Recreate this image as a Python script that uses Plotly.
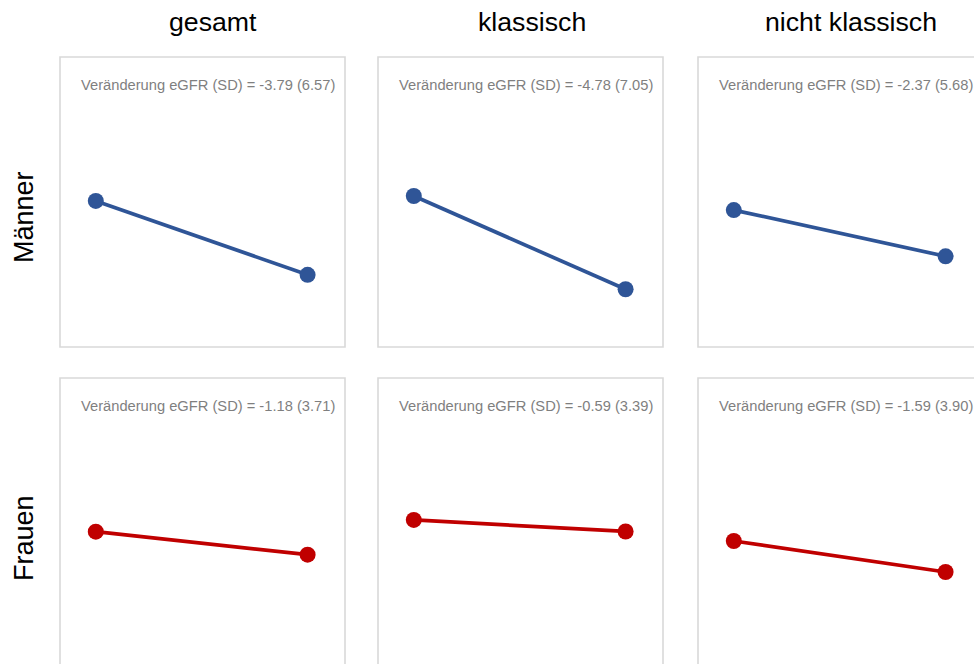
import plotly.graph_objects as go

# Faceted eGFR before/after plot: rows = sex, columns = subgroup
categories = ["gesamt", "klassisch", "nicht klassisch"]
groups = ["Männer", "Frauen"]
timepoints = [1, 2]

baseline_men = [72.62, 72.87, 72.15]
change_men = [-3.79, -4.78, -2.37]
sd_men = [6.57, 7.05, 5.68]

baseline_women = [72.12, 72.72, 71.64]
change_women = [-1.18, -0.59, -1.59]
sd_women = [3.71, 3.39, 3.90]

colors = ["#2F5597", "#C00000"]

W, H = 974, 664
# panel boxes in pixels (left, right, top, bottom)
col_px = [(60, 345), (378, 663), (698, 983)]
row_px = [(57, 347), (378, 668)]

X_PER_UNIT = 211.8
X_LEFT = 0.831
Y_PER_UNIT = 19.5
Y_TOP = 80.0

def px_x(p):
    return p / W

def px_y(p):
    return 1 - p / H

fig = go.Figure()
layout = {}
shapes = []
annotations = []

rows = [
    (baseline_men, change_men, sd_men),
    (baseline_women, change_women, sd_women),
]

idx = 0
for r, (base, chg, sd) in enumerate(rows):
    for c, cat in enumerate(categories):
        idx += 1
        sfx = "" if idx == 1 else str(idx)
        l, rt = col_px[c]
        t, b = row_px[r]
        rt_vis = min(rt, W)
        b_vis = min(b, H)
        xr = [X_LEFT, X_LEFT + (rt_vis - l) / X_PER_UNIT]
        yr = [Y_TOP - (b_vis - t) / Y_PER_UNIT, Y_TOP]
        layout["xaxis" + sfx] = dict(
            domain=[px_x(l), px_x(rt_vis)], range=xr, anchor="y" + sfx,
            showgrid=False, zeroline=False, showticklabels=False,
            showline=False, ticks="")
        layout["yaxis" + sfx] = dict(
            domain=[px_y(b_vis), px_y(t)], range=yr, anchor="x" + sfx,
            showgrid=False, zeroline=False, showticklabels=False,
            showline=False, ticks="")
        fig.add_trace(go.Scatter(
            x=timepoints, y=[base[c], base[c] + chg[c]],
            xaxis="x" + sfx, yaxis="y" + sfx,
            mode="lines+markers",
            line=dict(color=colors[r], width=3.7),
            marker=dict(color=colors[r], size=16),
            showlegend=False, hoverinfo="skip", cliponaxis=False))
        shapes.append(dict(
            type="rect", xref="paper", yref="paper",
            x0=px_x(l), x1=px_x(rt), y0=px_y(b), y1=px_y(t),
            line=dict(color="#D9D9D9", width=1.6), layer="below"))
        annotations.append(dict(
            xref="paper", yref="paper",
            x=px_x(rt - 8), y=px_y(t + 28),
            xanchor="right", yanchor="middle", showarrow=False,
            text=f"Veränderung eGFR (SD) = {chg[c]:.2f} ({sd[c]:.2f})",
            font=dict(size=14.7, color="#7F7F7F")))

# column headers
col_title_x = [213, 532, 851]
for c, cat in enumerate(categories):
    annotations.append(dict(
        xref="paper", yref="paper", x=px_x(col_title_x[c]), y=px_y(22),
        xanchor="center", yanchor="middle", showarrow=False,
        text=cat, font=dict(size=26.7, color="#000000")))

# row headers
row_title_y = [217, 538]
for r, g in enumerate(groups):
    annotations.append(dict(
        xref="paper", yref="paper", x=px_x(24), y=px_y(row_title_y[r]),
        xanchor="center", yanchor="middle", showarrow=False, textangle=-90,
        text=g, font=dict(size=27, color="#000000")))

fig.update_layout(
    width=W, height=H,
    margin=dict(l=0, r=0, t=0, b=0),
    paper_bgcolor="white", plot_bgcolor="white",
    font=dict(family="Liberation Sans, Arial, sans-serif"),
    shapes=shapes, annotations=annotations,
    **layout)

fig.write_html("out.html")
